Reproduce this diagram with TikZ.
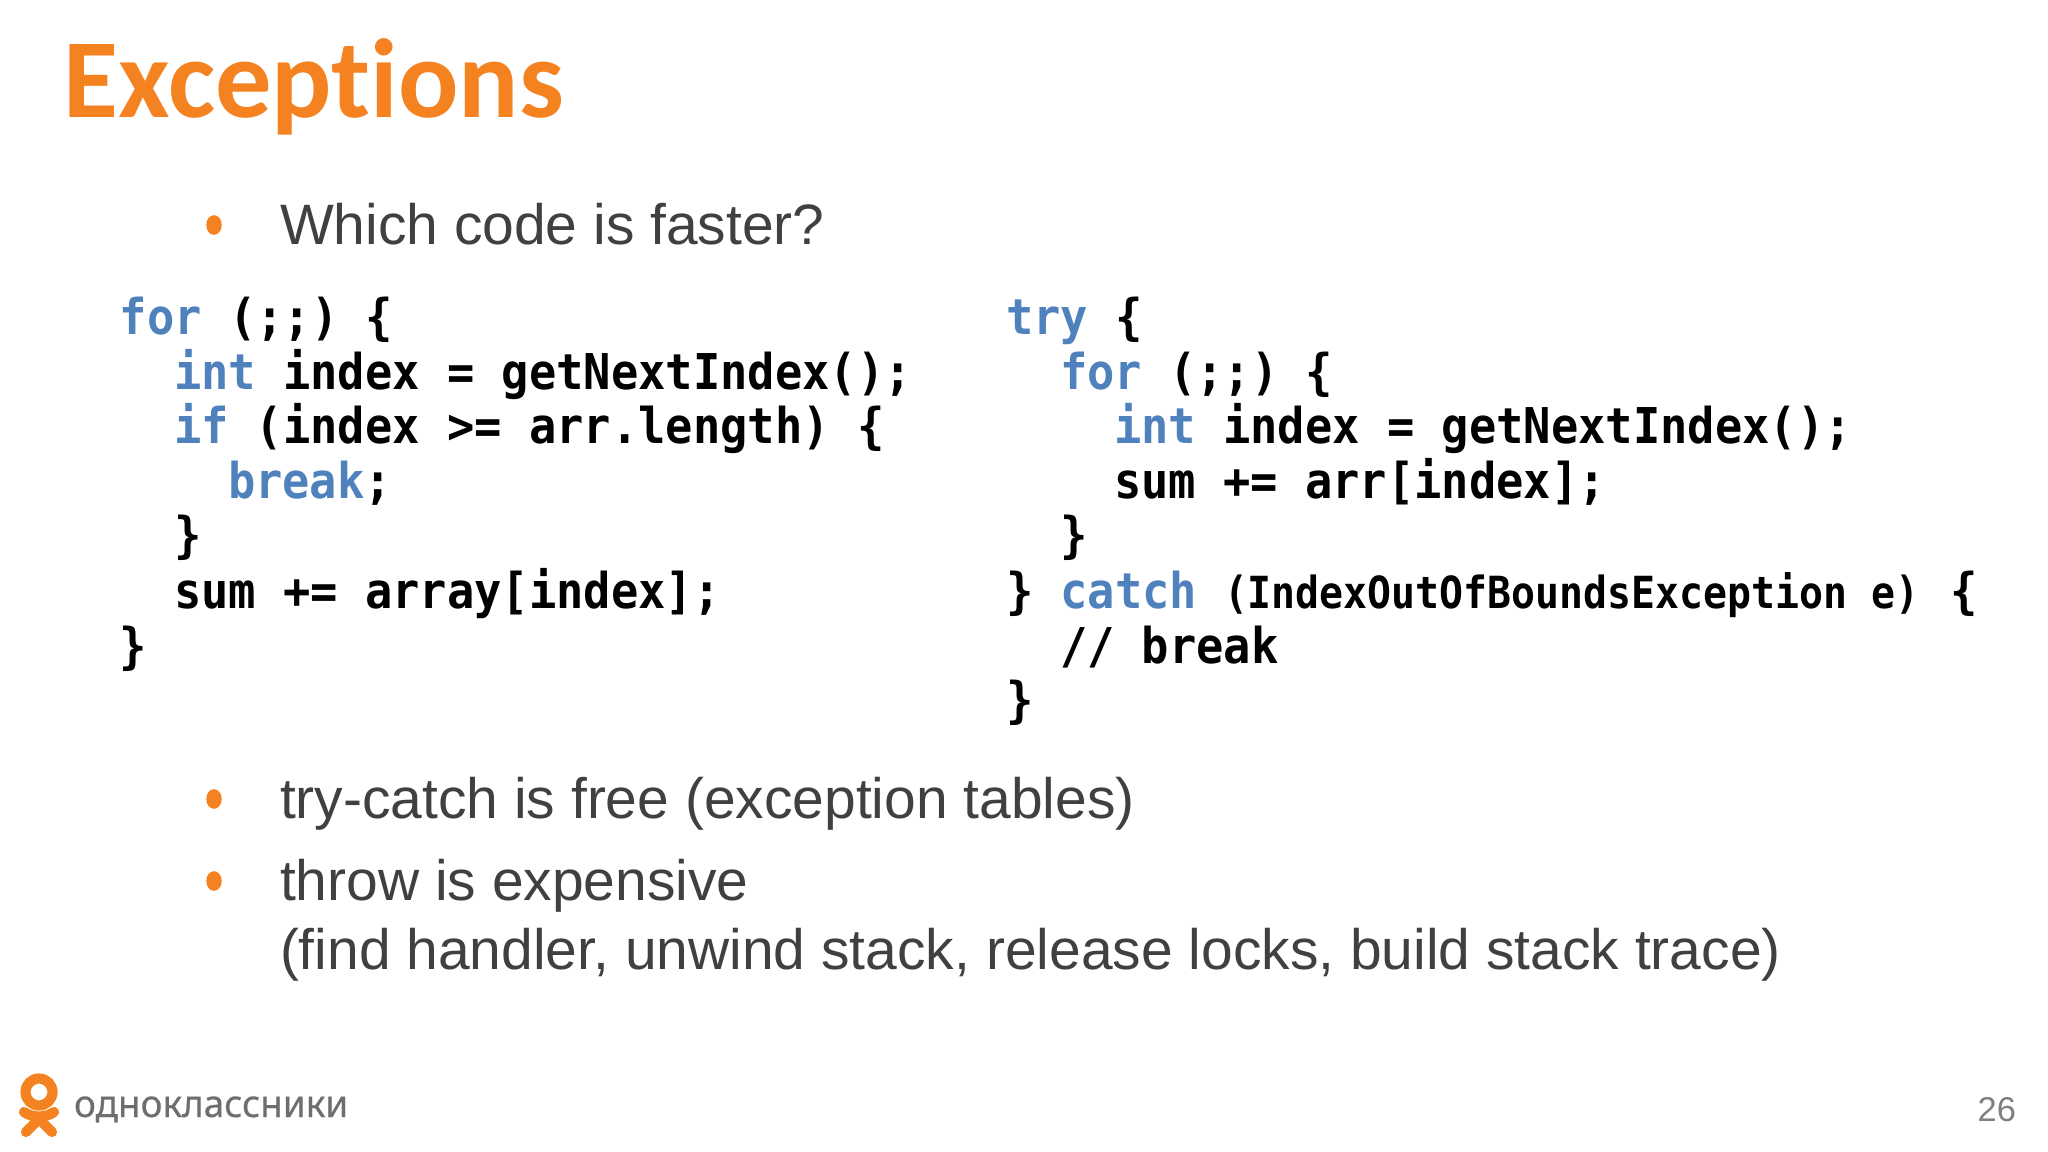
\documentclass[tikz,border=0pt]{standalone}
\usepackage{fontspec}
\setmainfont{Liberation Sans}
\newfontfamily\codefont[FakeStretch=0.92]{DejaVu Sans Mono}
\newfontfamily\narrowfont[FakeStretch=0.9]{DejaVu Sans Mono}
\newfontfamily\titlefont[Ligatures=NoCommon]{Carlito}
\newfontfamily\brandfont[FakeBold=0.5,FakeStretch=0.98]{Noto Sans}
\usetikzlibrary{positioning}
\usetikzlibrary{shapes.geometric}

\definecolor{okorange}{RGB}{244,130,32}
\definecolor{bodygray}{RGB}{64,64,64}
\definecolor{keyblue}{RGB}{79,129,189}
\definecolor{brandgray}{RGB}{110,110,112}
\definecolor{pagegray}{RGB}{127,127,127}

\newcommand{\kw}[1]{\textcolor{keyblue}{#1}}

\tikzset{
    every node/.style={inner sep=0pt, outer sep=0pt},
    codeline/.style={anchor=base west, font=\fontsize{14.03pt}{15pt}\codefont\bfseries, text=black},
    bodyline/.style={anchor=base west, font=\fontsize{16.2pt}{19pt}\selectfont, text=bodygray},
    bulletdot/.style={ellipse, fill=okorange, minimum width=4.4pt, minimum height=5.6pt}
}

\begin{document}
\begin{tikzpicture}[x=0.01cm, y=-0.01cm]
    \useasboundingbox (0,0) rectangle (2048,1152);

    \node[anchor=base west, font=\fontsize{32pt}{36pt}\titlefont\bfseries, text=okorange] (title) at (64,118) {Exceptions};

    % bullets
    \node[bulletdot] (dotA) at (214,225) {};
    \node[bodyline] (question) at (280,245) {Which code is faster?};
    \node[bulletdot] (dotB) at (214,799) {};
    \node[bodyline] (free) at (280,818) {try-catch is free (exception tables)};
    \node[bulletdot] (dotC) at (214,881) {};
    \node[bodyline] (throw) at (280,900) {throw is expensive};
    \node[bodyline] (cost) at (280,969) {(find handler, unwind stack, release locks, build stack trace)};

    % left code
    \node[codeline] (loopA) at (120,335) {\kw{for} (;;) \{};
    \node[codeline] (loopB) at (174,389.5) {\kw{int} index = getNextIndex();};
    \node[codeline] (loopC) at (174,444) {\kw{if} (index >= arr.length) \{};
    \node[codeline] (loopD) at (228,499) {\kw{break};};
    \node[codeline] (loopE) at (174,553) {\}};
    \node[codeline] (loopF) at (174,608) {sum += array[index];};
    \node[codeline] (loopG) at (120,663) {\}};

    % right code
    \node[codeline] (tryA) at (1006,335) {\kw{try} \{};
    \node[codeline] (tryB) at (1060,389.5) {\kw{for} (;;) \{};
    \node[codeline] (tryC) at (1114,444) {\kw{int} index = getNextIndex();};
    \node[codeline] (tryD) at (1114,499) {sum += arr[index];};
    \node[codeline] (tryE) at (1060,553) {\}};
    \node[codeline] (tryF) at (1006,608) {\} \kw{catch}};
    \node[codeline, font=\fontsize{12.58pt}{15pt}\narrowfont\bfseries] (tryG) at (1224,608) {(IndexOutOfBoundsException e)};
    \node[codeline] (tryH) at (1950,608) {\{};
    \node[codeline] (tryI) at (1060,663) {// break};
    \node[codeline] (tryJ) at (1006,717) {\}};

    % logo
    \draw[okorange, line width=2.9pt] (39,1092) circle (13.5);
    \draw[okorange, line width=2.9pt, line cap=round] (24,1112) .. controls (32,1118) and (46,1118) .. (54,1112);
    \draw[okorange, line width=2.9pt, line cap=round] (26,1132) -- (39,1119) -- (52,1132);
    \node[anchor=base west, font=\fontsize{10.7pt}{13pt}\brandfont, text=brandgray] (brand) at (74,1117) {одноклассники};

    \node[anchor=base east, font=\fontsize{9.8pt}{12pt}\selectfont, text=pagegray] (page) at (2016,1121) {26};
\end{tikzpicture}
\end{document}
